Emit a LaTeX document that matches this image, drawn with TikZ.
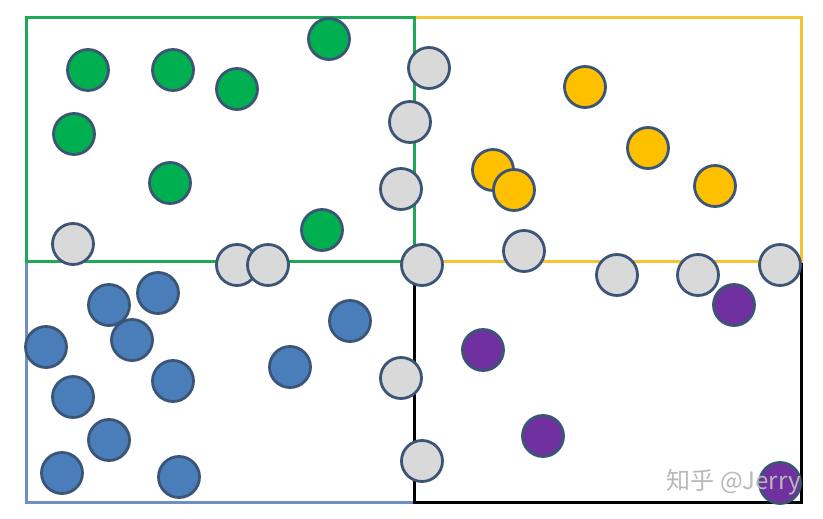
\documentclass[tikz,border=0pt]{standalone}
\usepackage{fontspec}
\newfontfamily\cjkfont{Noto Sans CJK SC}
\definecolor{cgreen}{HTML}{00B050}
\definecolor{cyellow}{HTML}{FFC000}
\definecolor{cblue}{HTML}{4A7EBB}
\definecolor{cpurple}{HTML}{7030A0}
\definecolor{cgray}{HTML}{D9D9D9}
\definecolor{cedge}{HTML}{3C5577}
\definecolor{lgreen}{HTML}{1FA857}
\definecolor{lyellow}{HTML}{F7C435}
\definecolor{lblue}{HTML}{6D8FC2}
\tikzset{
  ball/.style={circle, draw=cedge, line width=2.8pt, minimum size=41pt, inner sep=0pt},
  gb/.style={ball, fill=cgreen},
  yb/.style={ball, fill=cyellow},
  bb/.style={ball, fill=cblue},
  pb/.style={ball, fill=cpurple},
  nb/.style={ball, fill=cgray},
  region/.style={line width=3pt},
}
\begin{document}
\begin{tikzpicture}[x=1pt,y=-1pt]
\useasboundingbox (0,0) rectangle (823,519);
\fill[white] (0,0) rectangle (823,519);
% regions
\draw[region, draw=lblue] (26,261) rectangle (414,502);
\draw[region, draw=black] (414,261) rectangle (801,502);
\draw[region, draw=lyellow] (414,18) rectangle (801,261);
\draw[region, draw=lgreen] (26,18) rectangle (414,261);
% green
\node[gb] (g1) at (88,70) {};
\node[gb] (g2) at (173,70) {};
\node[gb] (g3) at (237,89) {};
\node[gb] (g4) at (329,39) {};
\node[gb] (g5) at (74,134) {};
\node[gb] (g6) at (170,183) {};
\node[gb] (g7) at (322,230) {};
% yellow
\node[yb] (y1) at (585,87) {};
\node[yb] (y2) at (648,148) {};
\node[yb] (y3) at (715,186) {};
\node[yb] (y4) at (493,170) {};
\node[yb] (y5) at (514,190) {};
% blue
\node[bb] (b1) at (46,347) {};
\node[bb] (b2) at (109,305) {};
\node[bb] (b3) at (158,293) {};
\node[bb] (b4) at (132,340) {};
\node[bb] (b5) at (173,381) {};
\node[bb] (b6) at (73,397) {};
\node[bb] (b7) at (109,440) {};
\node[bb] (b8) at (62,473) {};
\node[bb] (b9) at (179,477) {};
\node[bb] (b10) at (290,367) {};
\node[bb] (b11) at (350,321) {};
% gray (noise)
\node[nb] (n1) at (429,68) {};
\node[nb] (n2) at (410,122) {};
\node[nb] (n3) at (401,189) {};
\node[nb] (n4) at (73,244) {};
\node[nb] (n5) at (237,265) {};
\node[nb] (n6) at (268,265) {};
\node[nb] (n7) at (422,265) {};
\node[nb] (n8) at (524,251) {};
\node[nb] (n9) at (617,275) {};
\node[nb] (n10) at (698,275) {};
\node[nb] (n11) at (780,265) {};
\node[nb] (n12) at (401,378) {};
\node[nb] (n13) at (422,461) {};
% purple
\node[pb] (p1) at (483,350) {};
\node[pb] (p2) at (734,305) {};
\node[pb] (p3) at (543,436) {};
\node[pb] (p4) at (780,483) {};
% watermark
\node[text=black!28, anchor=east, inner sep=0pt] (wm) at (801,482) {\cjkfont\fontsize{24}{28}\selectfont 知乎 @Jerry};
\end{tikzpicture}
\end{document}
